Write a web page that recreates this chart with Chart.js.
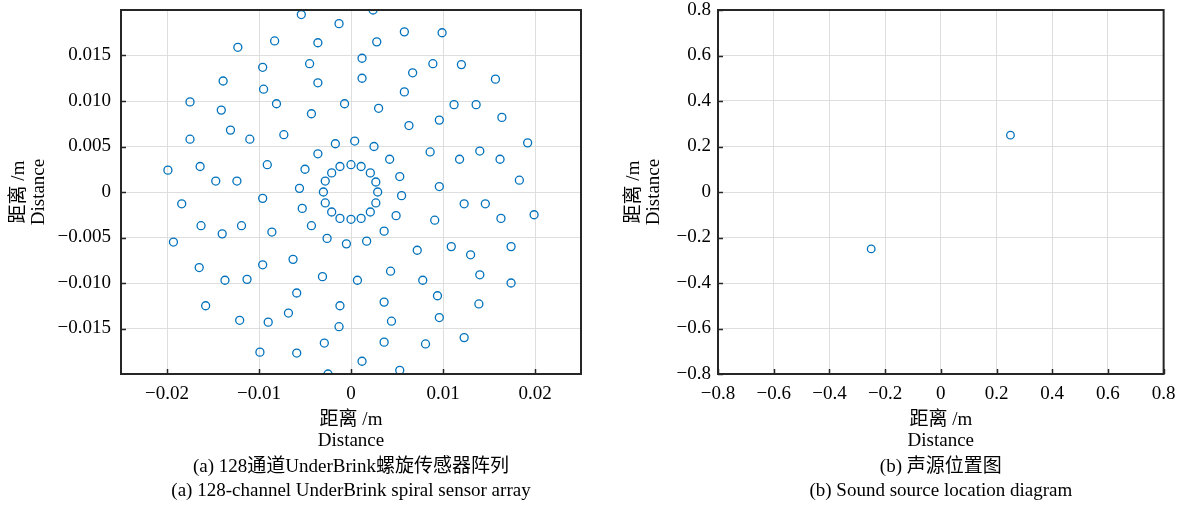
<!DOCTYPE html>
<html>
<head>
<meta charset="utf-8">
<script src="https://cdn.jsdelivr.net/npm/chart.js@4.4.0/dist/chart.umd.min.js"></script>
<style>
    html, body { margin: 0; padding: 0; background: #fff; overflow: hidden; }
    #wrapA { position: absolute; left: 0; top: 0; }
    #wrapB { position: absolute; left: 600px; top: 0; }
</style>
</head>
<body>
<div id="wrapA"><canvas id="arrayChart" width="600" height="505"></canvas></div>
<div id="wrapB"><canvas id="sourceChart" width="586" height="505"></canvas></div>
<script>
// (a) microphone positions
const ARRAY_X = [
    -0.0123, -0.0083, -0.0096, -0.0139, -0.0095, -0.0175, -0.0141, -0.0081,
    -0.0131, -0.0175, -0.0110, -0.0199, -0.0164, -0.0091, -0.0147, -0.0124,
    -0.0054, 0.0024, -0.0013, 0.0058, -0.0036, 0.0028, 0.0012, -0.0045,
    0.0067, -0.0036, 0.0012, 0.0058, -0.0007, -0.0043, 0.0030, 0.0063,
    -0.0073, -0.0017, 0.0004, 0.0025, -0.0036, 0.0042, -0.0050, 0.0053,
    -0.0056, 0.0055, 0.0000, -0.0012, 0.0011, -0.0021, 0.0021, -0.0028,
    0.0027, -0.0030, 0.0029, -0.0028, 0.0027, -0.0053, -0.0021, 0.0021,
    -0.0012, 0.0000, 0.0011, 0.0049, -0.0086, -0.0043, 0.0036, -0.0026,
    -0.0005, 0.0017, 0.0072, -0.0063, -0.0031, 0.0007, 0.0043, 0.0078,
    -0.0059, -0.0012, 0.0036, -0.0068, -0.0090, -0.0013, 0.0044, -0.0029,
    0.0036, 0.0081, -0.0059, 0.0012, 0.0053, -0.0025, 0.0099, 0.0089,
    0.0120, 0.0157, 0.0112, 0.0136, 0.0096, 0.0164, 0.0192, 0.0086,
    0.0140, 0.0118, 0.0162, 0.0183, 0.0096, 0.0123, 0.0146, 0.0091,
    0.0163, 0.0199, 0.0109, 0.0130, 0.0174, 0.0140, 0.0174, 0.0094,
    0.0139, 0.0096, 0.0123, -0.0096, -0.0184, -0.0163, -0.0140, -0.0119,
    -0.0193, -0.0165, -0.0096, -0.0137, -0.0113, -0.0158, -0.0121, -0.0099
];
const ARRAY_Y = [
    0.0159, 0.0166, 0.0137, 0.0122, 0.0113, 0.0099, 0.0090, 0.0097,
    0.0068, 0.0058, 0.0058, 0.0024, 0.0028, 0.0030, 0.0012, 0.0012,
    0.0195, 0.0200, 0.0185, 0.0176, 0.0164, 0.0165, 0.0147, 0.0141,
    0.0131, 0.0120, 0.0125, 0.0110, 0.0097, 0.0086, 0.0092, 0.0073,
    0.0063, 0.0053, 0.0056, 0.0050, 0.0042, 0.0036, 0.0025, 0.0017,
    0.0004, -0.0004, 0.0030, 0.0028, 0.0028, 0.0021, 0.0021, 0.0012,
    0.0011, 0.0000, 0.0000, -0.0012, -0.0012, -0.0018, -0.0022, -0.0022,
    -0.0029, -0.0030, -0.0029, -0.0026, -0.0044, -0.0037, -0.0043, -0.0051,
    -0.0057, -0.0054, -0.0064, -0.0074, -0.0093, -0.0097, -0.0087, -0.0097,
    -0.0111, -0.0125, -0.0121, -0.0133, -0.0143, -0.0148, -0.0142, -0.0166,
    -0.0165, -0.0167, -0.0177, -0.0186, -0.0196, -0.0200, 0.0175, 0.0141,
    0.0140, 0.0124, 0.0096, 0.0096, 0.0079, 0.0082, 0.0054, 0.0044,
    0.0045, 0.0036, 0.0036, 0.0013, 0.0006, -0.0013, -0.0013, -0.0031,
    -0.0029, -0.0025, -0.0060, -0.0069, -0.0060, -0.0091, -0.0100, -0.0114,
    -0.0123, -0.0138, -0.0160, -0.0007, -0.0013, -0.0037, -0.0046, -0.0037,
    -0.0055, -0.0083, -0.0080, -0.0097, -0.0096, -0.0125, -0.0141, -0.0176
];
// (b) sound source positions
const SOURCE_X = [-0.25, 0.25];
const SOURCE_Y = [-0.25, 0.25];

const A_X_TICKS = [-0.02, -0.01, 0, 0.01, 0.02];
const A_X_LABELS = ['\u22120.02', '\u22120.01', '0', '0.01', '0.02'];
const A_Y_TICKS = [-0.015, -0.01, -0.005, 0, 0.005, 0.01, 0.015];
const A_Y_LABELS = ['\u22120.015', '\u22120.010', '\u22120.005', '0', '0.005', '0.010', '0.015'];
const B_TICKS = [-0.8, -0.6, -0.4, -0.2, 0, 0.2, 0.4, 0.6, 0.8];
const B_LABELS = ['\u22120.8', '\u22120.6', '\u22120.4', '\u22120.2', '0', '0.2', '0.4', '0.6', '0.8'];

const AXIS_TITLE = ['距离 /m', 'Distance'];
const CAPTION_A = ['(a) 128通道UnderBrink螺旋传感器阵列', '(a) 128-channel UnderBrink spiral sensor array'];
const CAPTION_B = ['(b) 声源位置图', '(b) Sound source location diagram'];

const FONT = "'Liberation Serif', 'Times New Roman', 'Noto Sans CJK SC', serif";
const MARKER_COLOR = '#0072BD';
const GRID_COLOR = '#dedede';
const FRAME_COLOR = '#262626';

// box around the plot area plus inward tick marks on left and bottom
const frameTicks = {
    id: 'frameTicks',
    afterDraw(chart) {
        const ctx = chart.ctx;
        const a = chart.chartArea;
        const xs = chart.scales.x;
        const ys = chart.scales.y;
        ctx.save();
        ctx.strokeStyle = FRAME_COLOR;
        ctx.lineWidth = 1.5;
        ctx.beginPath();
        xs.ticks.forEach(t => {
            const px = Math.round(xs.getPixelForValue(t.value)) + 0.5;
            ctx.moveTo(px, a.bottom);
            ctx.lineTo(px, a.bottom - 5);
        });
        ys.ticks.forEach(t => {
            const py = Math.round(ys.getPixelForValue(t.value)) + 0.5;
            ctx.moveTo(a.left, py);
            ctx.lineTo(a.left + 5, py);
        });
        ctx.stroke();
        ctx.lineWidth = 2;
        ctx.strokeRect(a.left, a.top, a.right - a.left, a.bottom - a.top);
        ctx.restore();
    }
};

function makeScatter(canvasId, cfg) {
    const points = cfg.xs.map((v, i) => ({ x: v, y: cfg.ys[i] }));
    return new Chart(document.getElementById(canvasId), {
        type: 'scatter',
        data: {
            datasets: [{
                data: points,
                pointStyle: 'circle',
                pointRadius: cfg.radius,
                pointBorderWidth: 1.3,
                pointBorderColor: MARKER_COLOR,
                pointBackgroundColor: 'rgba(0,0,0,0)',
                clip: 0
            }]
        },
        options: {
            responsive: false,
            animation: false,
            events: [],
            layout: { padding: { top: 10, right: cfg.padRight, bottom: 0, left: 0 } },
            plugins: {
                legend: { display: false },
                tooltip: { enabled: false },
                title: {
                    display: true,
                    position: 'bottom',
                    fullSize: false,
                    text: cfg.caption,
                    color: '#000',
                    font: { family: FONT, size: 19, weight: 'normal', lineHeight: '24px' },
                    padding: { top: 0, bottom: 2 }
                }
            },
            scales: {
                x: {
                    type: 'linear',
                    min: cfg.xMin,
                    max: cfg.xMax,
                    afterBuildTicks: s => { s.ticks = cfg.xTicks.map(v => ({ value: v })); },
                    afterFit: s => { s.height = 81; },
                    grid: { color: GRID_COLOR, drawTicks: false },
                    border: { display: false },
                    ticks: {
                        padding: 10.5,
                        color: '#000',
                        autoSkip: false,
                        maxRotation: 0,
                        font: { family: FONT, size: 19, lineHeight: 1 },
                        callback: (v, i) => cfg.xLabels[i]
                    },
                    title: {
                        display: true,
                        text: AXIS_TITLE,
                        color: '#000',
                        font: { family: FONT, size: 19, lineHeight: '21px' },
                        padding: { top: 0, bottom: 3.5 }
                    }
                },
                y: {
                    type: 'linear',
                    min: cfg.yMin,
                    max: cfg.yMax,
                    afterBuildTicks: s => { s.ticks = cfg.yTicks.map(v => ({ value: v })); },
                    // fixed width, and no extra room above/below for the end labels
                    afterFit: s => {
                        s.width = cfg.yWidth;
                        s.paddingTop = 0;
                        s.paddingBottom = 0;
                    },
                    grid: { color: GRID_COLOR, drawTicks: false },
                    border: { display: false },
                    ticks: {
                        padding: cfg.yPad,
                        color: '#000',
                        autoSkip: false,
                        font: { family: FONT, size: 19, lineHeight: 1 },
                        callback: (v, i) => cfg.yLabels[i]
                    },
                    title: {
                        display: true,
                        text: AXIS_TITLE,
                        color: '#000',
                        font: { family: FONT, size: 19, lineHeight: '20px' },
                        padding: { top: cfg.yTitlePad, bottom: 0 }
                    }
                }
            }
        },
        plugins: [frameTicks]
    });
}

makeScatter('arrayChart', {
    xs: ARRAY_X, ys: ARRAY_Y, radius: 4,
    xMin: -0.025, xMax: 0.025, yMin: -0.02, yMax: 0.02,
    xTicks: A_X_TICKS, xLabels: A_X_LABELS,
    yTicks: A_Y_TICKS, yLabels: A_Y_LABELS,
    yWidth: 121, yPad: 10, yTitlePad: 9.5, padRight: 19,
    caption: CAPTION_A
});

makeScatter('sourceChart', {
    xs: SOURCE_X, ys: SOURCE_Y, radius: 3.8,
    xMin: -0.8, xMax: 0.8, yMin: -0.8, yMax: 0.8,
    xTicks: B_TICKS, xLabels: B_LABELS,
    yTicks: B_TICKS, yLabels: B_LABELS,
    yWidth: 118, yPad: 7, yTitlePad: 24, padRight: 20,
    caption: CAPTION_B
});
</script>
</body>
</html>
